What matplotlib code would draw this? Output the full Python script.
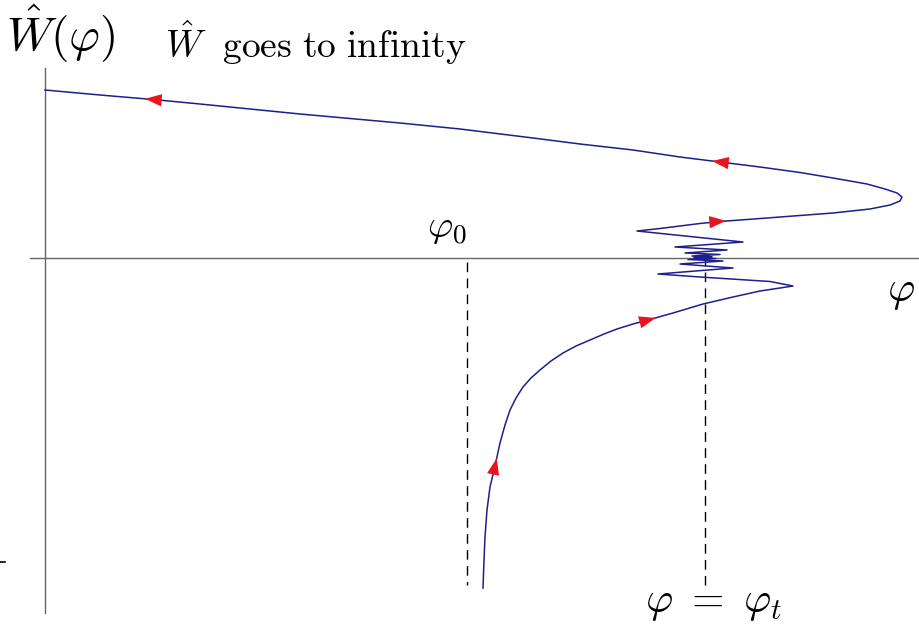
import numpy as np
import matplotlib.pyplot as plt
from matplotlib.patches import FancyArrowPatch

plt.rcParams['mathtext.fontset'] = 'cm'

# trajectory W(phi), from the bottom branch up through the oscillations
# around phi_t and out to the branch that runs off to infinity
phi = [4.38, 4.39, 4.40, 4.42, 4.45, 4.50, 4.55, 4.60, 4.65, 4.71, 4.78,
       4.86, 4.95, 5.06, 5.18, 5.31, 5.45, 5.59, 5.72, 5.88, 6.03, 6.28,
       6.58, 6.88, 7.15, 7.35, 7.48,
       7.25, 6.55, 6.13, 6.88, 6.35, 6.78, 6.43, 6.71, 6.49, 6.67, 6.47,
       6.75, 6.40, 6.82, 6.30, 6.98, 5.92,
       6.15, 6.55, 6.75, 7.22, 7.88, 8.25, 8.45, 8.55, 8.57, 8.52, 8.40,
       8.22, 7.88, 7.55, 7.15, 6.75, 6.35, 5.88, 5.35, 4.88, 4.15, 3.55,
       2.55, 1.55, 1.08, 0.55, 0.00]
W = [-3.30, -3.02, -2.79, -2.52, -2.29, -2.08, -1.85, -1.67, -1.52, -1.40,
     -1.29, -1.20, -1.12, -1.03, -0.95, -0.88, -0.82, -0.76, -0.71, -0.66,
     -0.62, -0.55, -0.46, -0.39, -0.33, -0.30, -0.28,
     -0.235, -0.19, -0.16, -0.10, -0.06, -0.03, -0.015, -0.005, 0.005,
     0.012, 0.02, 0.035, 0.05, 0.08, 0.11, 0.16, 0.27,
     0.295, 0.345, 0.365, 0.40, 0.45, 0.49, 0.53, 0.57, 0.61, 0.65, 0.69,
     0.74, 0.80, 0.855, 0.91, 0.96, 1.01, 1.08, 1.14, 1.20, 1.29, 1.35,
     1.44, 1.54, 1.585, 1.63, 1.68]

# where the direction arrows sit on the curve
arrow_phi = [4.50, 6.03, 6.73, 6.75, 1.08]
arrow_W = [-2.08, -0.62, 0.365, 0.96, 1.585]

phi0 = 4.22
phit = 6.60

fig = plt.figure(figsize=(9.19, 6.31), dpi=100)
ax = fig.add_axes([0, 0, 1, 1])
ax.set_xlim(-0.45, 8.74)
ax.set_ylim(-3.73, 2.58)
ax.axis('off')

# axes
ax.plot([-0.15, 8.74], [0, 0], color='#666666', lw=1.0)
ax.plot([0, 0], [1.90, -3.55], color='#666666', lw=1.0)
ax.plot([-0.45, -0.40], [-3.04, -3.04], color='k', lw=1.2)

# phi_0 and phi_t
ax.plot([phi0, phi0], [-0.04, -3.27], color='k', lw=1.0, ls=(0, (7, 4.5)))
ax.plot([phit, phit], [0.02, -3.27], color='k', lw=1.0, ls=(0, (7, 4.5)))

ax.plot(phi, W, color='#1e1e8c', lw=1.1)

pts = np.column_stack([phi, W])
for x, y in zip(arrow_phi, arrow_W):
    i = np.argmin(np.hypot(pts[:, 0] - x, pts[:, 1] - y))
    d = pts[min(i + 1, len(pts) - 1)] - pts[max(i - 1, 0)]
    d = d / np.hypot(*d)
    a = FancyArrowPatch((x - d[0] * 0.08, y - d[1] * 0.08),
                        (x + d[0] * 0.08, y + d[1] * 0.08),
                        arrowstyle='-|>,head_length=0.6,head_width=0.22',
                        mutation_scale=20, color='#e8141e', lw=0,
                        shrinkA=0, shrinkB=0, zorder=5)
    ax.add_patch(a)

ax.text(-0.39, 2.55, r'$\hat{W}(\varphi)$', fontsize=34, va='top', ha='left')
ax.text(1.20, 2.00, r'$\hat{W}\ \ \mathrm{goes\ to\ infinity}$', fontsize=27,
        va='baseline', ha='left')
ax.text(3.82, 0.20, r'$\varphi_0$', fontsize=28, va='baseline', ha='left')
ax.text(8.42, -0.33, r'$\varphi$', fontsize=30, va='center', ha='left')
ax.text(6.00, -3.44, r'$\varphi\ =\ \varphi_t$', fontsize=30, va='center', ha='left')

fig.savefig('out.png', dpi=100, facecolor='white')
